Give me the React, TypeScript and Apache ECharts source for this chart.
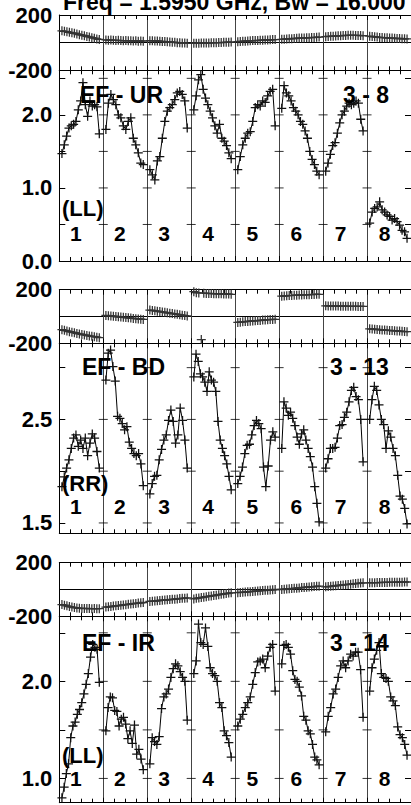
import { useEffect, useRef } from "react";
import * as echarts from "echarts";

// ---------- text ----------
const TITLE = "Freq = 1.5950 GHz, Bw = 16.000";
const IF_NUMBERS = ["1", "2", "3", "4", "5", "6", "7", "8"];
const BASELINES = ["EF - UR", "EF - BD", "EF - IR"];
const SCANS = ["3 - 8", "3 - 13", "3 - 14"];
const POLS = ["(LL)", "(RR)", "(LL)"];

// ---------- axis ticks / labels ----------
const PHASE_LABELS = [-200, 200];
const AMP_UR_LABELS = [0, 1, 2];
const AMP_UR_TICKS = [0.5, 1, 1.5, 2, 2.5];
const AMP_BD_LABELS = [1.5, 2.5];
const AMP_BD_TICKS = [1.5, 2, 2.5, 3];
const AMP_IR_LABELS = [1, 2];
const AMP_IR_TICKS = [1, 1.5, 2, 2.5];

// ---------- EF - UR (LL), scan 3 - 8 ----------
const ampUR: number[][] = [
  [1.47, 1.59, 1.71, 1.82, 1.85, 1.87, 1.91, 2.07, 2.19, 2.44, 2.14, 1.98, 2.19, 2.12, 2.14, 2.11, 1.74],
  [1.8, 2.16, 2.28, 2.21, 2.14, 2.0, 1.96, 1.85, 1.8, 1.91, 1.96, 1.68, 1.59, 1.48, 1.34, 1.32],
  [1.25, 1.18, 1.11, 1.37, 1.43, 1.68, 1.91, 2.05, 2.1, 2.14, 2.21, 2.3, 2.32, 2.28, 2.19, 1.82],
  [2.07, 2.26, 2.48, 2.55, 2.35, 2.23, 2.14, 2.05, 1.96, 1.85, 1.75, 1.87, 1.68, 1.64, 1.58, 1.48, 1.4],
  [1.25, 1.43, 1.59, 1.68, 1.75, 1.77, 1.91, 2.1, 2.14, 2.12, 2.19, 2.17, 2.26, 2.32, 2.35, 1.85],
  [2.09, 2.4, 2.3, 2.26, 2.19, 2.1, 2.05, 2.0, 1.91, 1.87, 1.78, 1.68, 1.5, 1.39, 1.32, 1.23, 1.18],
  [1.23, 1.34, 1.46, 1.58, 1.62, 1.75, 1.89, 2.0, 2.05, 2.12, 2.16, 2.14, 2.16, 2.19, 2.16, 1.94, 1.78],
  [0.52, 0.67, 0.72, 0.74, 0.81, 0.7, 0.67, 0.63, 0.61, 0.56, 0.58, 0.54, 0.49, 0.42, 0.4, 0.31],
];
const phaseUR: number[][] = [
  [86, 82, 79, 75, 71, 68, 63, 58, 54, 50, 45, 41, 36, 32, 27, 23],
  [20, 18, 19, 17, 16, 17, 15, 14, 15, 13, 14, 12, 13, 11, 12, 11],
  [14, 13, 12, 12, 10, 9, 8, 6, 5, 3, 2, 0, -1, -3, -3, -5],
  [-5, -4, -4, -3, -3, -2, -2, -1, 0, 0, 1, 1, 2, 2, 3, 4],
  [7, 9, 10, 11, 12, 13, 15, 15, 16, 17, 18, 19, 20, 21, 22, 22],
  [24, 25, 27, 28, 29, 30, 31, 33, 33, 34, 35, 36, 37, 38, 39, 40],
  [43, 45, 46, 47, 48, 50, 50, 51, 52, 53, 53, 53, 52, 52, 51, 50],
  [47, 44, 42, 40, 38, 37, 36, 35, 33, 33, 31, 30, 30, 29, 28, 27],
];

// ---------- EF - BD (RR), scan 3 - 13 ----------
const ampBD: number[][] = [
  [1.85, 1.945, 2.03, 2.11, 2.22, 2.32, 2.35, 2.24, 2.3, 2.22, 2.32, 2.15, 2.27, 2.36, 2.32, 2.19, 2.03],
  [2.88, 3.14, 3.17, 3.01, 2.87, 2.53, 2.51, 2.46, 2.4, 2.43, 2.28, 2.22, 2.17, 2.15, 2.17, 2.07, 1.86],
  [1.78, 1.88, 1.95, 1.96, 2.11, 2.21, 2.3, 2.35, 2.49, 2.59, 2.48, 2.27, 2.35, 2.61, 2.49, 2.3, 2.03],
  [2.91, 3.13, 3.06, 2.94, 2.91, 2.86, 2.77, 2.96, 2.88, 2.86, 2.77, 2.48, 2.3, 2.22, 2.15, 2.07, 1.95, 1.82],
  [1.88, 1.95, 2.04, 2.17, 2.25, 2.26, 2.35, 2.44, 2.49, 2.46, 2.41, 2.04, 1.85, 2.05, 2.3, 2.38, 2.33],
  [2.22, 2.67, 2.61, 2.54, 2.57, 2.51, 2.44, 2.33, 2.26, 2.36, 2.4, 2.3, 2.22, 2.14, 2.04, 1.85, 1.69, 1.51],
  [2.03, 2.12, 2.22, 2.22, 2.23, 2.32, 2.44, 2.45, 2.52, 2.57, 2.67, 2.78, 2.81, 2.72, 2.69, 2.5, 2.09],
  [2.5, 2.69, 2.82, 2.78, 2.64, 2.5, 2.45, 2.22, 2.39, 2.33, 2.22, 2.15, 1.96, 1.76, 1.73, 1.64, 1.49],
];
const phaseBD: number[][] = [
  [-98, -103, -108, -113, -117, -121, -126, -130, -134, -138, -141, -145, -148, -151, -154, -158],
  [8, 6, 4, 2, 0, -2, -4, -6, -8, -10, -12, -14, -16, -18, -20, -22],
  [48, 45, 42, 40, 37, 34, 31, 28, 25, 22, 19, 16, 13, 10, 7, 4],
  [185, 178, 176, -172, 174, 172, 172, 171, 170, 170, 169, 169, 168, 168, 167, 166],
  [-44, -42, -40, -38, -37, -35, -33, -32, -30, -29, -27, -26, -24, -23, -22, -21],
  [152, 153, 155, 156, 157, 158, 159, 160, 161, 162, 163, 163, 164, 165, 166, 166],
  [80, 79, 79, 78, 78, 78, 77, 77, 77, 76, 76, 76, 76, 75, 75, 75],
  [-92, -94, -95, -97, -98, -100, -101, -103, -104, -105, -107, -108, -109, -111, -112, -113],
];

// ---------- EF - IR (LL), scan 3 - 14 ----------
const ampIR: number[][] = [
  [0.8, 0.91, 1.05, 1.15, 1.42, 1.54, 1.58, 1.66, 1.71, 1.78, 1.87, 1.97, 2.08, 2.25, 2.38, 2.35, 2.33, 1.99],
  [1.49, 1.73, 1.84, 1.83, 1.7, 1.69, 1.54, 1.61, 1.63, 1.56, 1.41, 1.49, 1.36, 1.55, 1.25, 1.3, 1.2, 1.09],
  [1.15, 1.42, 1.38, 1.35, 1.43, 1.72, 1.84, 1.87, 1.92, 2.04, 2.13, 2.18, 2.16, 2.1, 2.04, 2.0, 1.6],
  [2.08, 2.21, 2.59, 2.4, 2.38, 2.55, 2.36, 2.14, 2.08, 2.06, 2.0, 1.78, 1.73, 1.49, 1.44, 1.37, 1.22],
  [1.54, 1.61, 1.66, 1.73, 1.78, 1.84, 1.97, 2.09, 2.2, 2.21, 2.23, 2.14, 2.26, 2.35, 2.38, 1.9],
  [2.18, 2.37, 2.38, 2.35, 2.28, 2.11, 2.02, 2.0, 1.94, 1.85, 1.64, 1.6, 1.49, 1.46, 1.35, 1.22, 1.19, 1.14],
  [1.48, 1.64, 1.73, 1.87, 1.92, 2.04, 2.16, 2.21, 2.14, 2.21, 2.28, 2.26, 2.3, 2.3, 2.12, 1.63],
  [1.9, 2.14, 2.23, 2.32, 2.4, 2.08, 2.04, 2.03, 2.0, 1.84, 1.8, 1.75, 1.53, 1.45, 1.42, 1.35, 1.24],
];
const phaseIR: number[][] = [
  [-112, -117, -122, -127, -131, -135, -138, -140, -141, -142, -141, -142, -143, -142, -143, -143],
  [-131, -129, -127, -124, -122, -120, -118, -115, -113, -111, -108, -106, -104, -101, -99, -97],
  [-89, -87, -86, -84, -82, -80, -79, -77, -75, -73, -72, -70, -68, -66, -65, -63],
  [-70, -66, -63, -60, -57, -54, -51, -48, -45, -42, -39, -36, -33, -30, -27, -25],
  [-24, -22, -21, -19, -17, -16, -14, -13, -11, -9, -8, -6, -5, -3, -2, 0],
  [0, 2, 4, 5, 7, 9, 10, 12, 14, 15, 17, 19, 20, 22, 24, 25],
  [20, 22, 24, 26, 28, 30, 32, 34, 36, 38, 40, 42, 44, 46, 48, 50],
  [50, 51, 51, 52, 52, 53, 53, 53, 54, 54, 54, 55, 55, 55, 56, 56],
];

// ---------- layout (pixels) ----------
const GRID_LEFT = 59.3;
const GRID_WIDTH = 353;
const IF_STEP = GRID_WIDTH / 8;
const LAYOUT = [
  { phaseTop: 15, phaseH: 55.3, ampTop: 70.3, ampH: 190.7, ampMin: 0, ampMax: 2.61, nameX: 80, scanX: 343, nameY: 94.7, polY: 208, numY: 233 },
  { phaseTop: 289.7, phaseH: 53.6, ampTop: 343.3, ampH: 190, ampMin: 1.4, ampMax: 3.235, nameX: 82, scanX: 330, nameY: 367.3, polY: 483, numY: 506 },
  { phaseTop: 562.7, phaseH: 53.6, ampTop: 616.3, ampH: 186.4, ampMin: 0.75, ampMax: 2.67, nameX: 82, scanX: 330, nameY: 643.3, polY: 755, numY: 778 },
];
const X_START = 0.06;
const X_END = 0.91;

const FONT = "'Liberation Sans', Arial, Helvetica, sans-serif";
const PLUS = "path://M4.3,0H5.7V10H4.3Z M0,4.3H10V5.7H0Z";

function channelPoints(values: number[], ifIdx: number, wrap: boolean) {
  const n = values.length;
  const out: any[] = [];
  for (let i = 0; i < n; i++) {
    const x = ifIdx + X_START + ((X_END - X_START) * i) / (n - 1);
    if (wrap && i > 0 && Math.abs(values[i] - values[i - 1]) > 180) {
      out.push([x - 0.001, "-"]);
    }
    out.push([x, values[i]]);
  }
  return out;
}

export default function App() {
  const ref = useRef<HTMLDivElement>(null);

  useEffect(() => {
    if (!ref.current) return;
    const chart = echarts.init(ref.current, undefined, { renderer: "svg" });

    const ampSets = [ampUR, ampBD, ampIR];
    const phaseSets = [phaseUR, phaseBD, phaseIR];
    const ampLabels = [AMP_UR_LABELS, AMP_BD_LABELS, AMP_IR_LABELS];
    const ampTicks = [AMP_UR_TICKS, AMP_BD_TICKS, AMP_IR_TICKS];

    const grid: any[] = [];
    const xAxis: any[] = [];
    const yAxis: any[] = [];
    const series: any[] = [];
    const graphic: any[] = [];

    const black = { color: "#000", width: 1 };

    const addX = (g: number) => {
      const base = {
        type: "value",
        gridIndex: g,
        min: 0,
        max: 8,
        interval: 1,
        axisLine: { show: true, onZero: false, lineStyle: black },
        axisTick: { show: true, inside: true, length: 5, lineStyle: black },
        minorTick: { show: true, splitNumber: 4, length: 4, lineStyle: black },
        axisLabel: { show: false },
      };
      xAxis.push({ ...base, position: "bottom", splitLine: { show: true, lineStyle: { color: "#444", width: 1 } } });
      xAxis.push({ ...base, position: "top", splitLine: { show: false } });
    };

    LAYOUT.forEach((p, pi) => {
      const gPhase = pi * 2;
      const gAmp = pi * 2 + 1;
      grid.push({ left: GRID_LEFT, width: GRID_WIDTH, top: p.phaseTop, height: p.phaseH });
      grid.push({ left: GRID_LEFT, width: GRID_WIDTH, top: p.ampTop, height: p.ampH });

      // phase axes
      addX(gPhase);
      yAxis.push({
        type: "value", gridIndex: gPhase, position: "left", min: -200, max: 200, interval: 200,
        axisLine: { show: true, onZero: false, lineStyle: black },
        axisTick: { show: false },
        axisLabel: {
          customValues: PHASE_LABELS, formatter: (v: number) => String(v),
          color: "#000", fontWeight: "bold", fontSize: 22, fontFamily: FONT, margin: 7,
        },
        splitLine: { show: true, lineStyle: black },
      });
      yAxis.push({
        type: "value", gridIndex: gPhase, position: "right", min: -200, max: 200, interval: 200,
        axisLine: { show: true, onZero: false, lineStyle: black },
        axisTick: { show: false }, axisLabel: { show: false }, splitLine: { show: false },
      });

      // amp axes
      addX(gAmp);
      yAxis.push({
        type: "value", gridIndex: gAmp, position: "left", min: p.ampMin, max: p.ampMax,
        axisLine: { show: true, onZero: false, lineStyle: black },
        axisTick: { show: true, inside: true, length: 6, customValues: ampTicks[pi], lineStyle: black },
        axisLabel: {
          customValues: ampLabels[pi], formatter: (v: number) => v.toFixed(1),
          color: "#000", fontWeight: "bold", fontSize: 22, fontFamily: FONT, margin: 7,
        },
        splitLine: { show: false },
      });
      yAxis.push({
        type: "value", gridIndex: gAmp, position: "right", min: p.ampMin, max: p.ampMax,
        axisLine: { show: true, onZero: false, lineStyle: black },
        axisTick: { show: true, inside: true, length: 6, customValues: ampTicks[pi], lineStyle: black },
        axisLabel: { show: false }, splitLine: { show: false },
      });

      // separator tick crosses in amp panel
      const crosses: number[][] = [];
      for (let k = 1; k < 8; k++) ampTicks[pi].forEach((t) => crosses.push([k, t]));
      series.push({
        type: "scatter", xAxisIndex: gAmp * 2, yAxisIndex: gAmp * 2, data: crosses,
        symbol: "rect", symbolSize: [9, 1], itemStyle: { color: "#000" }, silent: true, z: 1,
      });

      for (let k = 0; k < 8; k++) {
        series.push({
          type: "line", xAxisIndex: gPhase * 2, yAxisIndex: gPhase * 2,
          data: channelPoints(phaseSets[pi][k], k, true),
          symbol: PLUS, symbolSize: 9, showAllSymbol: true, connectNulls: false,
          lineStyle: { color: "#000", width: 1 }, itemStyle: { color: "#333" }, z: 3,
        });
        series.push({
          type: "line", xAxisIndex: gAmp * 2, yAxisIndex: gAmp * 2,
          data: channelPoints(ampSets[pi][k], k, false),
          symbol: PLUS, symbolSize: 9, showAllSymbol: true,
          lineStyle: { color: "#000", width: 1 }, itemStyle: { color: "#111" }, z: 3,
        });
      }

      // annotations
      graphic.push({
        type: "text", x: p.nameX, y: p.nameY, z: 10,
        style: { text: BASELINES[pi], font: `bold 23px ${FONT}`, fill: "#000", textAlign: "left", textVerticalAlign: "middle" },
      });
      graphic.push({
        type: "text", x: p.scanX, y: p.nameY, z: 10,
        style: { text: SCANS[pi], font: `bold 23px ${FONT}`, fill: "#000", textAlign: "left", textVerticalAlign: "middle" },
      });
      graphic.push({
        type: "text", x: 62, y: p.polY, z: 10,
        style: { text: POLS[pi], font: `bold 22px ${FONT}`, fill: "#000", textAlign: "left", textVerticalAlign: "middle" },
      });
      IF_NUMBERS.forEach((lab, k) => {
        graphic.push({
          type: "text", x: GRID_LEFT + k * IF_STEP + 16.5, y: p.numY, z: 10,
          style: { text: lab, font: `bold 21px ${FONT}`, fill: "#000", textAlign: "center", textVerticalAlign: "middle" },
        });
      });
    });

    graphic.push({
      type: "text", x: 63, y: 2, z: 10,
      style: { text: TITLE, font: `bold 23px ${FONT}`, fill: "#000", textAlign: "left", textVerticalAlign: "middle" },
    });

    chart.setOption({
      animation: false,
      backgroundColor: "#fff",
      grid,
      xAxis,
      yAxis,
      series,
      graphic,
    });

    return () => chart.dispose();
  }, []);

  return (
    <div
      ref={ref}
      style={{ position: "absolute", left: 0, top: 0, width: 411, height: 805, background: "#fff" }}
    />
  );
}
